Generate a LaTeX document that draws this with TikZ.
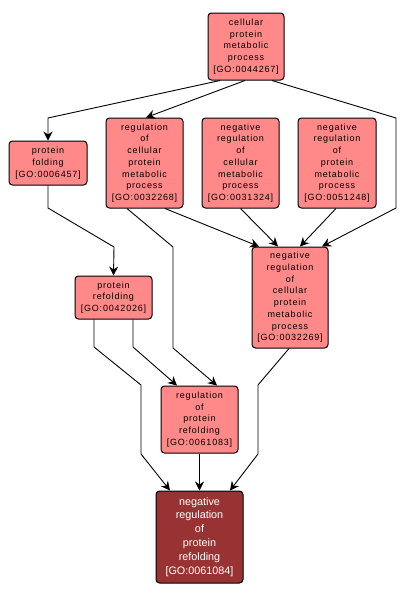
\documentclass[tikz,border=0pt]{standalone}
\usepackage{fontspec}
\setmainfont{Liberation Sans}
\newfontfamily\spaced[LetterSpace=9]{Liberation Sans}
\usetikzlibrary{arrows.meta}
\definecolor{salmon}{RGB}{255,137,137}
\definecolor{darkred}{RGB}{153,51,51}
\tikzset{
  x=1pt,y=-1pt,
  term/.style={draw=black,line width=1pt,rounded corners=3.5pt,fill=salmon,align=center,
    inner sep=0pt,font=\spaced\fontsize{9}{11.7}\selectfont,text=black},
  goal/.style={term,fill=darkred,text=white,font=\fontsize{10.8}{13.9}\selectfont},
  link/.style={line width=0.9pt,-{Stealth[length=9pt,width=9pt,inset=3pt]}}
}
\begin{document}
\begin{tikzpicture}
\useasboundingbox (0,0) rectangle (405,600);
\fill[white] (0,0) rectangle (405,600);
\node[term,minimum width=76pt,minimum height=67pt] (cpmp) at (246,46.5) {cellular\\protein\\metabolic\\process\\{[GO:0044267]}};
\node[term,minimum width=78pt,minimum height=44pt] (pf) at (48,163) {protein\\folding\\{[GO:0006457]}};
\node[term,minimum width=77pt,minimum height=90pt] (rc) at (144.5,163) {regulation\\of\\cellular\\protein\\metabolic\\process\\{[GO:0032268]}};
\node[term,minimum width=77pt,minimum height=90pt] (nc) at (240.5,163) {negative\\regulation\\of\\cellular\\metabolic\\process\\{[GO:0031324]}};
\node[term,minimum width=78pt,minimum height=90pt] (np) at (337,163) {negative\\regulation\\of\\protein\\metabolic\\process\\{[GO:0051248]}};
\node[term,minimum width=76pt,minimum height=101pt] (nrc) at (290,297.5) {negative\\regulation\\of\\cellular\\protein\\metabolic\\process\\{[GO:0032269]}};
\node[term,minimum width=77pt,minimum height=43pt] (pr) at (113.5,297.5) {protein\\refolding\\{[GO:0042026]}};
\node[term,minimum width=77pt,minimum height=67pt] (rpr) at (199.5,419.5) {regulation\\of\\protein\\refolding\\{[GO:0061083]}};
\node[goal,minimum width=87pt,minimum height=92pt] (t) at (199.5,537) {negative\\regulation\\of\\protein\\refolding\\{[GO:0061084]}};
% bend points
\coordinate (b1) at (48,118);
\coordinate (b3a) at (396,118);
\coordinate (b3b) at (396,208);
\coordinate (b4a) at (48,208);
\coordinate (b4b) at (114,247);
\coordinate (b5a) at (173,247);
\coordinate (b5b) at (173,348);
\coordinate (b9a) at (94,347);
\coordinate (b9b) at (141,385);
\coordinate (b9c) at (141,454);
\coordinate (b10a) at (133,347);
\coordinate (b12a) at (258,385);
\coordinate (b12b) at (258,454);
% edges
\draw[link] ([xshift=-26pt]cpmp.south) -- (b1) -- (pf.north);
\draw[link] ([xshift=-1pt]cpmp.south) -- ([xshift=1.5pt]rc.north);
\draw[link] ([xshift=26pt]cpmp.south) -- (b3a) -- (b3b) -- ([xshift=32pt]nrc.north);
\draw[link] (pf.south) -- (b4a) -- (b4b) -- (pr.north);
\draw[link] ([xshift=-17.5pt]rc.south) -- (b5a) -- (b5b) -- ([xshift=17.5pt]rpr.north);
\draw[link] ([xshift=20.5pt]rc.south) -- ([xshift=-31pt]nrc.north);
\draw[link] (nc.south) -- ([xshift=-12pt]nrc.north);
\draw[link] ([xshift=-1pt]np.south) -- ([xshift=10pt]nrc.north);
\draw[link] ([xshift=-19.5pt]pr.south) -- (b9a) -- (b9b) -- (b9c) -- ([xshift=-29.5pt]t.north);
\draw[link] ([xshift=19.5pt]pr.south) -- (b10a) -- ([xshift=-22.5pt]rpr.north);
\draw[link] (rpr.south) -- (t.north);
\draw[link] ([xshift=-1pt]nrc.south) -- (b12a) -- (b12b) -- ([xshift=30.5pt]t.north);
\end{tikzpicture}
\end{document}
